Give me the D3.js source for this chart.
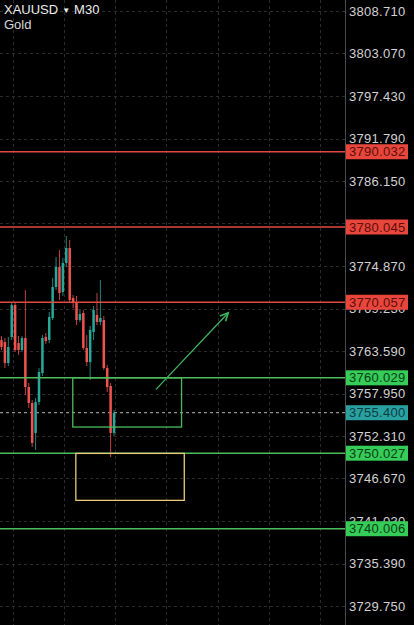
<!DOCTYPE html>
<html>
<head>
<meta charset="utf-8">
<script src="https://cdn.jsdelivr.net/npm/d3@7/dist/d3.min.js"></script>
<style>
  html, body { margin: 0; padding: 0; background: #000; }
  svg { display: block; }
</style>
</head>
<body>
<div id="chart-area"></div>
<script>
// Candles (M30), left to right
var opens  = [3765.05, 3764.78, 3761.99, 3765.45, 3769.69, 3764.65, 3763.72, 3765.31, 3758.81, 3756.69,
              3752.71, 3756.82, 3760.67, 3765.45, 3765.05, 3767.97, 3772.08, 3774.74, 3771.42, 3775.27,
              3777.26, 3770.62, 3769.96, 3767.70, 3768.63, 3763.99, 3762.12, 3766.11, 3768.37, 3767.44,
              3767.70, 3761.33, 3758.94, 3752.71];
var highs  = [3765.58, 3765.31, 3765.45, 3769.96, 3769.96, 3765.58, 3765.58, 3771.68, 3759.34, 3757.08,
              3757.35, 3761.33, 3765.71, 3765.98, 3768.76, 3773.28, 3776.06, 3776.99, 3775.93, 3778.85,
              3778.32, 3771.02, 3770.89, 3769.03, 3769.03, 3765.71, 3766.91, 3769.56, 3771.29, 3773.01,
              3768.23, 3761.73, 3759.34, 3755.76];
var lows   = [3763.72, 3761.33, 3761.60, 3765.05, 3763.46, 3763.06, 3763.46, 3757.75, 3756.02, 3750.85,
              3750.45, 3756.42, 3760.27, 3764.52, 3764.65, 3767.70, 3771.68, 3770.36, 3770.89, 3774.74,
              3769.96, 3769.29, 3767.04, 3767.44, 3763.72, 3761.60, 3759.74, 3765.05, 3767.04, 3767.04,
              3761.07, 3758.15, 3749.52, 3752.31];
var closes = [3764.12, 3761.99, 3764.12, 3769.69, 3763.72, 3763.72, 3765.31, 3758.81, 3756.69, 3751.38,
              3756.82, 3760.80, 3765.31, 3764.92, 3768.10, 3772.08, 3774.74, 3771.29, 3775.27, 3777.26,
              3770.36, 3769.96, 3767.70, 3768.50, 3763.99, 3762.12, 3766.38, 3769.03, 3767.44, 3767.97,
              3761.33, 3758.81, 3752.71, 3755.40];

// Price axis ticks
var tickLabels = ["3808.710", "3803.070", "3797.430", "3791.790", "3786.150", "3780.510", "3774.870",
                  "3769.230", "3763.590", "3757.950", "3752.310", "3746.670", "3741.030", "3735.390", "3729.750"];

// Time grid (in candle index units)
var gridIdx = [3.35, 18.35, 33.35, 48.35, 63.35, 78.35, 93.35];

// Horizontal levels
var resistanceLevels = [3790.032, 3780.045, 3770.057];
var supportLevels = [3760.029, 3750.027, 3740.006];
var lastPrice = 3755.400;

// Drawn objects: zones [startIdx, endIdx, topPrice, bottomPrice], arrow [idx, price]
var greenZone = [20.9, 52.8, 3760.029, 3753.50];
var yellowZone = [21.8, 53.6, 3750.00, 3743.77];
var arrowFrom = [45.3, 3758.50];
var arrowTo = [66.5, 3768.67];

var symbol = "XAUUSD";
var timeframe = "M30";
var symbolName = "Gold";

// Canvas
var canvasWidth = 414;
var canvasHeight = 625;
var axisX = 345.5;

var bull = "#2aa79b";
var bear = "#ef5350";
var resColor = "#e04a40";
var supColor = "#4cbb5d";

var canvas = d3.select("#chart-area")
	.append("svg")
	.attr("width", canvasWidth)
	.attr("height", canvasHeight);

canvas.append("rect")
	.attr("width", canvasWidth)
	.attr("height", canvasHeight)
	.attr("fill", "#000");

// Scales
var y = d3.scaleLinear()
	.domain([3729.75, 3808.71])
	.range([606, 11]);

var x = d3.scaleLinear()
	.domain([0, 100])
	.range([1.5, 342.5]);

var plot = canvas.append("g");

// Grid
plot.selectAll(".hgrid")
	.data(tickLabels)
	.enter().append("line")
	.attr("x1", 0)
	.attr("x2", axisX)
	.attr("y1", function(d){ return Math.round(y(+d)) + 0.5; })
	.attr("y2", function(d){ return Math.round(y(+d)) + 0.5; })
	.attr("stroke", "#2c2c2c")
	.attr("stroke-dasharray", "3,3");

plot.selectAll(".vgrid")
	.data(gridIdx)
	.enter().append("line")
	.attr("x1", function(d){ return Math.round(x(d)) + 0.5; })
	.attr("x2", function(d){ return Math.round(x(d)) + 0.5; })
	.attr("y1", 0)
	.attr("y2", canvasHeight)
	.attr("stroke", "#2c2c2c")
	.attr("stroke-dasharray", "3,3");

// Last price dashed line
plot.append("line")
	.attr("x1", 0)
	.attr("x2", axisX)
	.attr("y1", y(lastPrice))
	.attr("y2", y(lastPrice))
	.attr("stroke", "#b8b8b8")
	.attr("stroke-width", 1)
	.attr("stroke-dasharray", "3,3");

// Candles
var candles = d3.range(opens.length).map(function(i){
	return {i: i, o: opens[i], h: highs[i], l: lows[i], c: closes[i]};
});

var cg = plot.selectAll(".candle")
	.data(candles)
	.enter().append("g");

cg.append("line")
	.attr("x1", function(d){ return x(d.i); })
	.attr("x2", function(d){ return x(d.i); })
	.attr("y1", function(d){ return y(d.h); })
	.attr("y2", function(d){ return y(d.l); })
	.attr("stroke", function(d){ return d.c >= d.o ? bull : bear; })
	.attr("stroke-width", 0.8);

cg.append("rect")
	.attr("x", function(d){ return x(d.i) - 1.25; })
	.attr("width", 2.5)
	.attr("y", function(d){ return y(Math.max(d.o, d.c)); })
	.attr("height", function(d){ return Math.max(1, Math.abs(y(d.o) - y(d.c))); })
	.attr("fill", function(d){ return d.c >= d.o ? bull : bear; });

// Level lines
plot.selectAll(".res")
	.data(resistanceLevels)
	.enter().append("line")
	.attr("x1", 0).attr("x2", axisX)
	.attr("y1", function(d){ return y(d); })
	.attr("y2", function(d){ return y(d); })
	.attr("stroke", resColor)
	.attr("stroke-width", 1.5);

plot.selectAll(".sup")
	.data(supportLevels)
	.enter().append("line")
	.attr("x1", 0).attr("x2", axisX)
	.attr("y1", function(d){ return y(d); })
	.attr("y2", function(d){ return y(d); })
	.attr("stroke", supColor)
	.attr("stroke-width", 1.5);

// Zones
function zone(z, color) {
	plot.append("rect")
		.attr("x", x(z[0]))
		.attr("y", y(z[2]))
		.attr("width", x(z[1]) - x(z[0]))
		.attr("height", y(z[3]) - y(z[2]))
		.attr("fill", "none")
		.attr("stroke", color)
		.attr("stroke-width", 1.3);
}
zone(greenZone, supColor);
zone(yellowZone, "#e8ca78");

// Arrow
var ax1 = x(arrowFrom[0]), ay1 = y(arrowFrom[1]);
var ax2 = x(arrowTo[0]), ay2 = y(arrowTo[1]);
var ang = Math.atan2(ay2 - ay1, ax2 - ax1);
var hl = 9, ha = 0.45;
plot.append("line")
	.attr("x1", ax1).attr("y1", ay1)
	.attr("x2", ax2).attr("y2", ay2)
	.attr("stroke", "#3fb25e")
	.attr("stroke-width", 1.3);
plot.append("path")
	.attr("d", "M" + (ax2 - hl * Math.cos(ang - ha)) + "," + (ay2 - hl * Math.sin(ang - ha)) +
		"L" + ax2 + "," + ay2 +
		"L" + (ax2 - hl * Math.cos(ang + ha)) + "," + (ay2 - hl * Math.sin(ang + ha)))
	.attr("fill", "none")
	.attr("stroke", "#3fb25e")
	.attr("stroke-width", 1.6);

// Price axis
canvas.append("rect")
	.attr("x", axisX)
	.attr("y", 0)
	.attr("width", canvasWidth - axisX)
	.attr("height", canvasHeight)
	.attr("fill", "#000");

canvas.append("line")
	.attr("x1", axisX).attr("x2", axisX)
	.attr("y1", 0).attr("y2", canvasHeight)
	.attr("stroke", "#4a4a4a")
	.attr("stroke-width", 1);

// tick labels sitting almost on a tag are hidden by the terminal
var tagPrices = resistanceLevels.concat(supportLevels, [lastPrice]);
var shownTicks = tickLabels.filter(function(d){
	return !tagPrices.some(function(p){ return Math.abs(y(p) - y(+d)) < 5; });
});

canvas.selectAll(".tick-label")
	.data(shownTicks)
	.enter().append("text")
	.attr("x", 349)
	.attr("y", function(d){ return y(+d) + 4.5; })
	.attr("font-family", "'Liberation Sans', Arial, sans-serif")
	.attr("font-size", "13px")
	.attr("letter-spacing", "0.3px")
	.attr("fill", "#d2d2d2")
	.text(function(d){ return d; });

// Price tags
function tag(price, bg, fg) {
	var g = canvas.append("g");
	g.append("rect")
		.attr("x", 346)
		.attr("y", y(price) - 7.5)
		.attr("width", 62)
		.attr("height", 15)
		.attr("fill", bg);
	g.append("text")
		.attr("x", 349)
		.attr("y", y(price) + 4.5)
		.attr("font-family", "'Liberation Sans', Arial, sans-serif")
		.attr("font-size", "13px")
		.attr("letter-spacing", "0.3px")
		.attr("fill", fg)
		.text(price.toFixed(3));
}
resistanceLevels.forEach(function(p){ tag(p, "#e8463c", "#5c0e08"); });
supportLevels.forEach(function(p){ tag(p, "#35cc58", "#0b3d16"); });
tag(lastPrice, "#28a1a0", "#0b3d42");

// Symbol header
var header = canvas.append("text")
	.attr("x", 4)
	.attr("y", 14)
	.attr("font-family", "'Liberation Sans', Arial, sans-serif")
	.attr("font-size", "13px")
	.attr("fill", "#ececec");
header.append("tspan").text(symbol);
header.append("tspan").attr("font-size", "8px").attr("dx", 4).attr("dy", -1).text("▼");
header.append("tspan").attr("dx", 4).attr("dy", 1).text(timeframe);

canvas.append("text")
	.attr("x", 4)
	.attr("y", 29)
	.attr("font-family", "'Liberation Sans', Arial, sans-serif")
	.attr("font-size", "13px")
	.attr("fill", "#d8d8d8")
	.text(symbolName);
</script>
</body>
</html>
